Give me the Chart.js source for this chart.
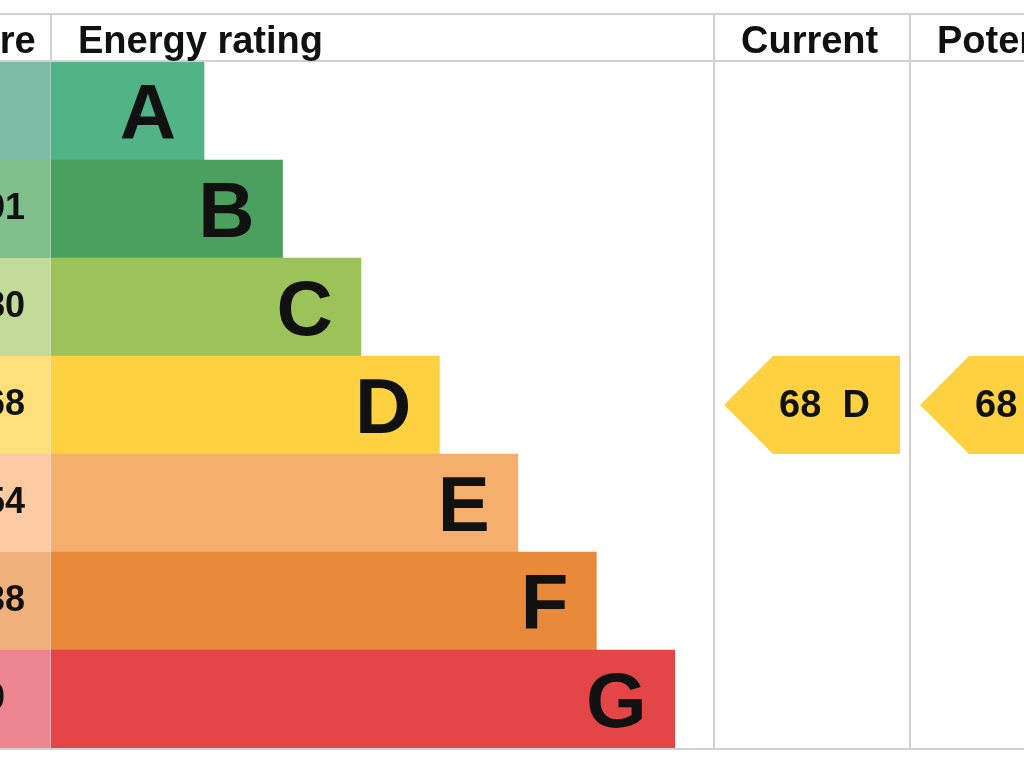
<!DOCTYPE html>
<html>
<head>
<meta charset="utf-8">
<script src="https://cdn.jsdelivr.net/npm/chart.js@4/dist/chart.umd.min.js"></script>
<style>
  html, body { margin: 0; padding: 0; width: 1024px; height: 768px; overflow: hidden; background: #ffffff; }
  #wrap { position: absolute; left: -100px; top: 0; width: 1210px; height: 768px; }
</style>
</head>
<body>
<div id="wrap"><canvas id="c" width="1210" height="768"></canvas></div>
<script>
// ---- data ----
const ratings = ['A', 'B', 'C', 'D', 'E', 'F', 'G'];
const scoreRanges = ['92+', '81-91', '69-80', '55-68', '39-54', '21-38', '1-20'];
const barLengths = [2, 3, 4, 5, 6, 7, 8];
const barColors = ['#50b487', '#4ca05f', '#9cc25a', '#fed141', '#f5af6d', '#e98a3a', '#e44546'];
const scoreColors = ['#7cbca6', '#80c08c', '#c2da98', '#fee07a', '#fccba3', '#efb07c', '#ec8590'];
const headers = ['Score', 'Energy rating', 'Current', 'Potential'];
const currentScore = 68;
const currentRating = 'D';
const potentialScore = 68;
const potentialRating = 'D';

// ---- layout (canvas coords) ----
const FONT = '"Liberation Sans", Arial, Helvetica, sans-serif';
const cols = { score: 3, rating: 151, current: 814, potential: 1010, end: 1206 };
const tableTop = 14, tableBottom = 749;
const lineColor = '#d0d0d5';
const ink = '#111111';

const epcPlugin = {
  id: 'epc',
  beforeDatasetsDraw(chart) {
    const ctx = chart.ctx, y = chart.scales.y, area = chart.chartArea;
    ctx.save();
    // score column cells
    ratings.forEach((r, i) => {
      const cy = y.getPixelForValue(i);
      const h = y.getPixelForValue(1) - y.getPixelForValue(0);
      ctx.fillStyle = scoreColors[i];
      ctx.fillRect(cols.score, cy - h / 2, area.left - cols.score, h);
      ctx.fillStyle = ink;
      ctx.font = 'bold 36px ' + FONT;
      ctx.textAlign = 'left';
      ctx.textBaseline = 'alphabetic';
      ctx.fillText(scoreRanges[i], cols.score + 30, cy + 10);
    });
    ctx.restore();
  },
  afterDatasetsDraw(chart) {
    const ctx = chart.ctx, y = chart.scales.y, area = chart.chartArea;
    const meta = chart.getDatasetMeta(0);
    ctx.save();
    // letters inside bars
    ctx.fillStyle = ink;
    ctx.font = 'bold 78px ' + FONT;
    ctx.textAlign = 'right';
    ctx.textBaseline = 'alphabetic';
    meta.data.forEach((bar, i) => {
      ctx.fillText(ratings[i], bar.x - 28, bar.y + 28);
    });

    // arrows
    const rowH = y.getPixelForValue(1) - y.getPixelForValue(0);
    function arrow(colLeft, colRight, score, rating) {
      const idx = ratings.indexOf(rating);
      const cy = y.getPixelForValue(idx);
      const half = rowH / 2;
      const tip = colLeft + 10;
      const body = tip + half;
      const right = colRight - 10;
      ctx.fillStyle = barColors[idx];
      ctx.beginPath();
      ctx.moveTo(tip, cy);
      ctx.lineTo(body, cy - half);
      ctx.lineTo(right, cy - half);
      ctx.lineTo(right, cy + half);
      ctx.lineTo(body, cy + half);
      ctx.closePath();
      ctx.fill();
      ctx.fillStyle = ink;
      ctx.font = 'bold 38px ' + FONT;
      ctx.textAlign = 'left';
      ctx.fillText(score + '  ' + rating, tip + 55, cy + 12);
    }
    arrow(cols.current, cols.potential, currentScore, currentRating);
    arrow(cols.potential, cols.end, potentialScore, potentialRating);

    // table lines
    ctx.strokeStyle = lineColor;
    ctx.lineWidth = 2;
    ctx.beginPath();
    ctx.moveTo(0, tableTop); ctx.lineTo(chart.width, tableTop);
    ctx.moveTo(0, area.top - 1); ctx.lineTo(chart.width, area.top - 1);
    ctx.moveTo(0, tableBottom); ctx.lineTo(chart.width, tableBottom);
    [cols.current, cols.potential, cols.end].forEach(x => {
      ctx.moveTo(x, tableTop); ctx.lineTo(x, tableBottom);
    });
    ctx.moveTo(cols.rating, tableTop); ctx.lineTo(cols.rating, area.top);
    ctx.stroke();
    ctx.strokeStyle = 'rgba(230,230,235,0.35)';
    ctx.lineWidth = 1;
    ctx.beginPath();
    ctx.moveTo(cols.rating - 0.5, area.top); ctx.lineTo(cols.rating - 0.5, area.bottom);
    ctx.stroke();

    // headers
    ctx.fillStyle = ink;
    ctx.font = 'bold 38px ' + FONT;
    ctx.textAlign = 'left';
    const hx = [cols.score, cols.rating, cols.current, cols.potential];
    headers.forEach((t, i) => ctx.fillText(t, hx[i] + 27, 53));
    ctx.restore();
  }
};

new Chart(document.getElementById('c'), {
  type: 'bar',
  data: {
    labels: ratings,
    datasets: [{
      data: barLengths,
      backgroundColor: barColors,
      borderWidth: 0,
      barPercentage: 1,
      categoryPercentage: 1
    }]
  },
  options: {
    indexAxis: 'y',
    responsive: false,
    animation: false,
    layout: { padding: { left: cols.rating, right: 1210 - cols.current, top: 62, bottom: 20 } },
    plugins: { legend: { display: false }, tooltip: { enabled: false } },
    scales: {
      x: { display: false, min: 0.05, max: 8.5 },
      y: { display: false }
    }
  },
  plugins: [epcPlugin]
});
</script>
</body>
</html>
